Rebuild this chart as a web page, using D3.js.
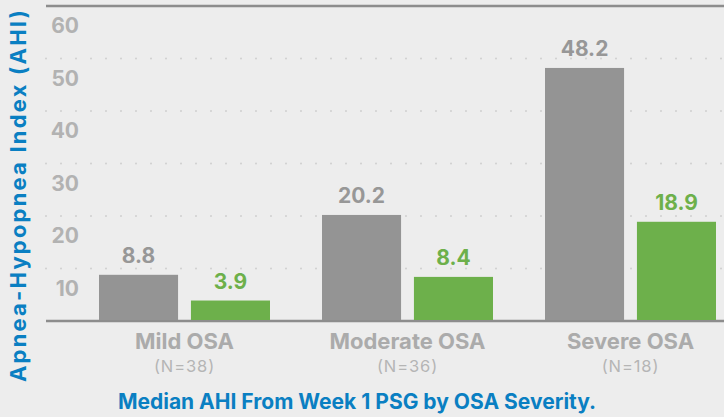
<!DOCTYPE html>
<html>
<head>
<meta charset="utf-8">
<script src="https://cdn.jsdelivr.net/npm/d3@7"></script>
<style>
  body { margin: 0; background: #ededed; }
  svg { display: block; font-family: Inter, "Open Sans", sans-serif; }
</style>
</head>
<body>
<div id="chart-area"></div>
<script>
const width = 724, height = 417;

// data
const categories = ["Mild OSA", "Moderate OSA", "Severe OSA"];
const counts = ["(N=38)", "(N=36)", "(N=18)"];
const series = ["baseline", "week1"];
const baselineAHI = [8.8, 20.2, 48.2];
const week1AHI = [3.9, 8.4, 18.9];
const yTicks = [10, 20, 30, 40, 50, 60];

const colors = {baseline: "#949494", week1: "#6db04b"};
const labelColors = {baseline: "#979797", week1: "#6db04b"};

const rows = categories.map((c, i) => ({
  cat: c, n: counts[i], baseline: baselineAHI[i], week1: week1AHI[i]
}));

const svg = d3.select("#chart-area").append("svg")
  .attr("width", width).attr("height", height);

//--------------------------- SCALES
const y = d3.scaleLinear().domain([0, 60]).range([321, 6]);

const x0 = d3.scaleBand().domain(categories).range([73, 742]);
const x1 = d3.scaleBand().domain(series).range([26, 197]).paddingInner(0.14);

//--------------------------- GRID
const grid = svg.append("g");
grid.selectAll("line.dot")
  .data(yTicks.filter(t => t < 60))
  .join("line")
    .attr("x1", 46).attr("x2", width)
    .attr("y1", d => y(d)).attr("y2", d => y(d))
    .attr("stroke", "#d2d2d2")
    .attr("stroke-width", 2.2)
    .attr("stroke-linecap", "round")
    .attr("stroke-dasharray", "0 15");

// top and base lines
grid.selectAll("line.solid")
  .data([60, 0])
  .join("line")
    .attr("x1", 46).attr("x2", width)
    .attr("y1", d => y(d)).attr("y2", d => y(d))
    .attr("stroke", "#8d8d8d")
    .attr("stroke-width", 2.5);

// y tick labels sit in the band under each gridline
svg.append("g").selectAll("text")
  .data(yTicks)
  .join("text")
    .attr("x", 79)
    .attr("y", d => y(d) + 27)
    .attr("text-anchor", "end")
    .attr("fill", "#b2b2b2")
    .attr("font-size", 21)
    .attr("font-weight", 700)
    .text(d => d);

//--------------------------- BARS
const groups = svg.append("g").selectAll("g")
  .data(rows)
  .join("g")
    .attr("transform", d => `translate(${x0(d.cat)},0)`);

groups.selectAll("rect")
  .data(d => series.map(k => ({key: k, value: d[k]})))
  .join("rect")
    .attr("x", d => x1(d.key))
    .attr("width", x1.bandwidth())
    .attr("y", d => y(d.value))
    .attr("height", d => y(0) - 1 - y(d.value))
    .attr("fill", d => colors[d.key]);

groups.selectAll("text.val")
  .data(d => series.map(k => ({key: k, value: d[k]})))
  .join("text")
    .attr("class", "val")
    .attr("x", d => x1(d.key) + x1.bandwidth() / 2)
    .attr("y", d => y(d.value) - 12)
    .attr("text-anchor", "middle")
    .attr("fill", d => labelColors[d.key])
    .attr("font-size", 21)
    .attr("font-weight", 700)
    .text(d => d.value.toFixed(1));

//--------------------------- CATEGORY LABELS
const cx = c => x0(c) + x0.bandwidth() / 2;
svg.append("g").selectAll("text")
  .data(rows)
  .join("text")
    .attr("x", d => cx(d.cat))
    .attr("y", 349)
    .attr("text-anchor", "middle")
    .attr("fill", "#ababab")
    .attr("font-size", 22)
    .attr("font-weight", 700)
    .text(d => d.cat);

svg.append("g").selectAll("text")
  .data(rows)
  .join("text")
    .attr("x", d => cx(d.cat))
    .attr("y", 372)
    .attr("text-anchor", "middle")
    .attr("fill", "#b5b5b5")
    .attr("font-size", 16.5)
    .attr("font-weight", 400)
    .attr("letter-spacing", 0.9)
    .text(d => d.n);

//--------------------------- TITLES
svg.append("text")
  .attr("x", 357)
  .attr("y", 409)
  .attr("text-anchor", "middle")
  .attr("fill", "#0a7fc2")
  .attr("font-size", 21)
  .attr("font-weight", 700)
  .text("Median AHI From Week 1 PSG by OSA Severity.");

svg.append("text")
  .attr("transform", "translate(26,195) rotate(-90)")
  .attr("text-anchor", "middle")
  .attr("fill", "#0a7fc2")
  .attr("font-size", 22)
  .attr("font-weight", 700)
  .attr("letter-spacing", 2.2)
  .text("Apnea-Hypopnea Index (AHI)");
</script>
</body>
</html>
